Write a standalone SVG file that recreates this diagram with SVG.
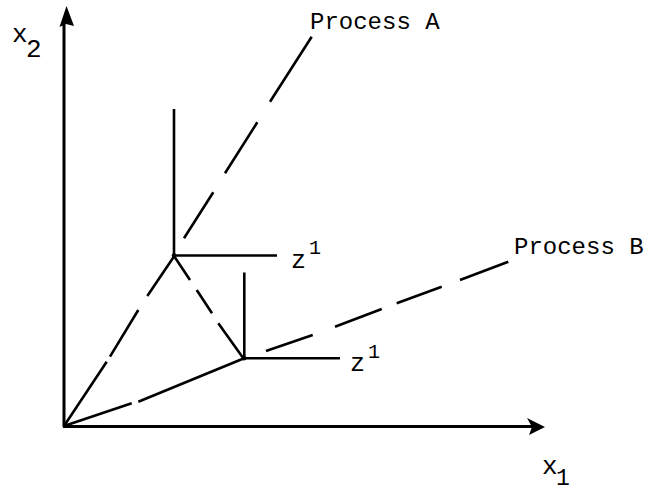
<svg xmlns="http://www.w3.org/2000/svg" width="650" height="492" viewBox="0 0 650 492">
<style>
.ax{stroke:#000;stroke-width:3;fill:none}
.ln{stroke:#000;stroke-width:2.6;fill:none;stroke-linecap:butt}
.t{font-family:"Liberation Mono","Courier New",monospace;fill:#000}
</style>
<rect width="650" height="492" fill="#fff"/>
<g id="axes">
<line class="ax" x1="64" y1="427" x2="64" y2="22"/>
<path d="M66.5,6 L59.5,27 L66,24 L74,26 Z" fill="#000"/>
<line class="ax" x1="63" y1="426.5" x2="532" y2="426.5"/>
<path d="M545,427 L527,418 L532,427 L529,435 Z" fill="#000"/>
<text class="t" x="12" y="42" font-size="26">x</text>
<text class="t" x="26" y="57" font-size="26">2</text>
<text class="t" x="542" y="474" font-size="26">x</text>
<text class="t" x="556" y="485" font-size="23">1</text>
</g>
<g id="connectors">
<g id="processA">
<path class="ln" d="M311.7,36.7 L270,101.7 M257.3,122.3 L225,173.3 M213.3,192.3 L184,238.3 M175,255 L147.3,296 M138.3,310 L110,356.7 M106.7,361.7 L64,426"/>
</g>
<g id="processB">
<path class="ln" d="M508.3,261.7 L460,280 M441.7,286.7 L396.7,303.3 M381.7,309 L335,326.7 M312.7,335 L266,351 M243.5,358.5 L138.3,401.7 M131.7,403.3 L64,426"/>
</g>
<g id="ab">
<path class="ln" d="M174,256 L190,280 M196.7,290 L212,313.3 M218.3,323.3 L243.5,358.5"/>
</g>
</g>
<g id="nodeA">
<line class="ln" x1="174" y1="109" x2="174" y2="256"/>
<line class="ln" x1="172.8" y1="255.5" x2="277" y2="255.5"/>
<circle cx="174" cy="255.5" r="2.3" fill="#000"/>
<text class="t" x="291" y="268" font-size="25">z</text>
<text class="t" x="309" y="254" font-size="20">1</text>
</g>
<g id="nodeB">
<line class="ln" x1="244.3" y1="272.5" x2="244.3" y2="359"/>
<line class="ln" x1="243" y1="358.3" x2="340" y2="358.3"/>
<circle cx="244" cy="358.3" r="2.3" fill="#000"/>
<text class="t" x="350" y="371" font-size="25">z</text>
<text class="t" x="368" y="358" font-size="20">1</text>
</g>
<g id="labelA">
<text class="t" x="310" y="29" font-size="24">Process A</text>
</g>
<g id="labelB">
<text class="t" x="514" y="254" font-size="24">Process B</text>
</g>
</svg>
